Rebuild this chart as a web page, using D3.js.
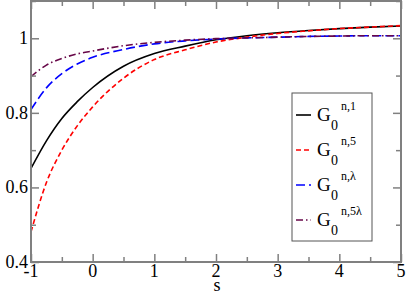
<!DOCTYPE html>
<html>
<head>
<meta charset="utf-8">
<script src="https://cdn.jsdelivr.net/npm/d3@7"></script>
<style>
  svg text { font-family: "Liberation Serif", "Times New Roman", serif !important; }
</style>
</head>
<body style="margin:0">
<svg width="409" height="295"></svg>
<script>
// sample points along s
const sValues = [-1, -0.75, -0.5, -0.25, 0, 0.5, 1, 1.5, 2, 2.5, 3, 3.5, 4, 4.5, 5];

// G0^{n,1}
const g1 = [0.651, 0.725, 0.785, 0.830, 0.868, 0.925, 0.959, 0.979, 0.996, 1.007, 1.015, 1.021, 1.026, 1.030, 1.033];
// G0^{n,5}
const g5 = [0.481, 0.613, 0.700, 0.765, 0.816, 0.893, 0.943, 0.969, 0.990, 1.003, 1.013, 1.020, 1.026, 1.030, 1.034];
// G0^{n,λ}
const gL = [0.809, 0.867, 0.905, 0.931, 0.949, 0.970, 0.985, 0.993, 0.998, 1.001, 1.003, 1.005, 1.006, 1.007, 1.007];
// G0^{n,5λ}
const g5L = [0.897, 0.928, 0.946, 0.958, 0.966, 0.980, 0.989, 0.995, 0.999, 1.001, 1.003, 1.005, 1.006, 1.007, 1.007];

const xTicks = [-1, 0, 1, 2, 3, 4, 5];
const yTicks = [0.4, 0.6, 0.8, 1];
const yTickLabels = ["0.4", "0.6", "0.8", "1"];
const xMinor = [-0.5, 0.5, 1.5, 2.5, 3.5, 4.5];
const yMinor = [0.5, 0.7, 0.9, 1.1];

const seriesNames = ["n,1", "n,5", "n,\u03bb", "n,5\u03bb"];

const series = [
  { values: g1, sup: seriesNames[0], color: "#000000", dash: null },
  { values: g5, sup: seriesNames[1], color: "#ff0000", dash: "5,3" },
  { values: gL, sup: seriesNames[2], color: "#0000ff", dash: "9,4" },
  { values: g5L, sup: seriesNames[3], color: "#670748", dash: "7,3,1.5,3" }
];

const serif = "'Liberation Serif'";
const svg = d3.select("svg");
const plotLeft = 31, plotRight = 401, plotTop = 1, plotBottom = 262;

const x = d3.scaleLinear().domain([-1, 5]).range([plotLeft, plotRight]);
const y = d3.scaleLinear().domain([0.4, 1.1]).range([plotBottom, plotTop]);

// curves
const line = d3.line()
  .x((d, i) => x(sValues[i]))
  .y(d => y(d))
  .curve(d3.curveMonotoneX);

svg.append("clipPath").attr("id", "clip")
  .append("rect").attr("x", plotLeft).attr("y", plotTop)
  .attr("width", plotRight - plotLeft).attr("height", plotBottom - plotTop);

svg.append("g").attr("clip-path", "url(#clip)")
  .selectAll("path")
  .data(series)
  .join("path")
  .attr("d", d => line(d.values))
  .attr("fill", "none")
  .attr("stroke", d => d.color)
  .attr("stroke-width", 1.6)
  .attr("stroke-dasharray", d => d.dash);

// axes: ticks inward on all four sides
const frame = "#808080";
const axes = svg.append("g");

function addTicks(axisFn, scale, pos, vals, size, horizontal) {
  axes.append("g")
    .attr("transform", horizontal ? `translate(0,${pos})` : `translate(${pos},0)`)
    .call(axisFn(scale).tickValues(vals).tickSize(size).tickFormat(""));
}
addTicks(d3.axisTop, x, plotBottom, xTicks, 8, true);
addTicks(d3.axisTop, x, plotBottom, xMinor, 5, true);
addTicks(d3.axisBottom, x, plotTop, xTicks, 8, true);
addTicks(d3.axisBottom, x, plotTop, xMinor, 5, true);
addTicks(d3.axisRight, y, plotLeft, yTicks, 8, false);
addTicks(d3.axisRight, y, plotLeft, yMinor, 5, false);
addTicks(d3.axisLeft, y, plotRight, yTicks, 8, false);
addTicks(d3.axisLeft, y, plotRight, yMinor, 5, false);
axes.selectAll(".domain").remove();
axes.selectAll("text").remove();
axes.selectAll("line").attr("stroke", frame).attr("stroke-width", 1.5);

svg.append("rect")
  .attr("x", plotLeft).attr("y", plotTop)
  .attr("width", plotRight - plotLeft).attr("height", plotBottom - plotTop)
  .attr("fill", "none").attr("stroke", frame).attr("stroke-width", 2);

// legend box and samples
const legendRows = series.map((d, i) => ({ ...d, base: 121 + i * 35 }));

svg.append("rect")
  .attr("x", 292).attr("y", 93).attr("width", 80).attr("height", 148)
  .attr("fill", "#fff").attr("stroke", "#555").attr("stroke-width", 1);

svg.selectAll("line.sample")
  .data(legendRows)
  .join("line")
  .attr("class", "sample")
  .attr("x1", 296).attr("x2", 311)
  .attr("y1", d => d.base - 6).attr("y2", d => d.base - 6)
  .attr("stroke", d => d.color)
  .attr("stroke-width", 1.6)
  .attr("stroke-dasharray", d => d.dash);

// texts
svg.selectAll("text.xlab")
  .data(xTicks)
  .join("text")
  .attr("class", "xlab")
  .attr("x", d => x(d))
  .attr("y", 277)
  .attr("text-anchor", "middle")
  .attr("font-size", 18)
  .style("font-family", serif)
  .text(d => d);

svg.selectAll("text.ylab")
  .data(yTicks)
  .join("text")
  .attr("class", "ylab")
  .attr("x", 28)
  .attr("y", d => y(d) + 6)
  .attr("text-anchor", "end")
  .attr("font-size", 18)
  .style("font-family", serif)
  .text((d, i) => yTickLabels[i]);

svg.append("text")
  .attr("x", 217).attr("y", 291)
  .attr("text-anchor", "middle")
  .attr("font-size", 18)
  .style("font-family", serif)
  .text("s");

svg.selectAll("text.lg")
  .data(legendRows)
  .join("text")
  .attr("class", "lg")
  .attr("x", 317).attr("y", d => d.base)
  .attr("font-size", 19)
  .style("font-family", serif)
  .text("G");

svg.selectAll("text.lsub")
  .data(legendRows)
  .join("text")
  .attr("class", "lsub")
  .attr("x", 331).attr("y", d => d.base + 9)
  .attr("font-size", 14)
  .style("font-family", serif)
  .text("0");

svg.selectAll("text.lsup")
  .data(legendRows)
  .join("text")
  .attr("class", "lsup")
  .attr("x", 341).attr("y", d => d.base - 11)
  .attr("font-size", 12)
  .style("font-family", serif)
  .text(d => d.sup);
</script>
</body>
</html>
